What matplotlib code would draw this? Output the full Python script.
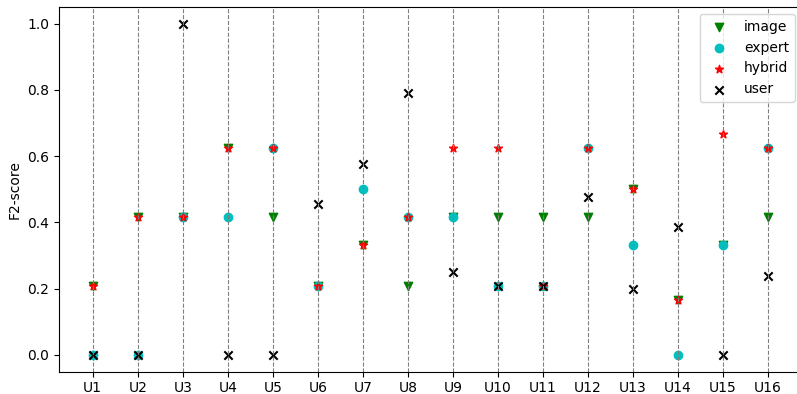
import matplotlib.pyplot as plt

users = ["U%d" % i for i in range(1, 17)]

image = [0.208, 0.417, 0.417, 0.625, 0.417, 0.208, 0.333, 0.208,
         0.417, 0.417, 0.417, 0.417, 0.5, 0.167, 0.333, 0.417]
expert = [0.0, 0.0, 0.417, 0.417, 0.625, 0.208, 0.5, 0.417,
          0.417, 0.208, 0.208, 0.625, 0.333, 0.0, 0.333, 0.625]
hybrid = [0.208, 0.417, 0.417, 0.625, 0.625, 0.208, 0.333, 0.417,
          0.625, 0.625, 0.208, 0.625, 0.5, 0.167, 0.667, 0.625]
user = [0.0, 0.0, 1.0, 0.0, 0.0, 0.455, 0.576, 0.79,
        0.25, 0.208, 0.208, 0.476, 0.2, 0.385, 0.0, 0.238]

fig = plt.figure(figsize=(7.97, 3.94), dpi=100)
ax = fig.add_axes([0.074, 0.057, 0.932, 0.925])

x = list(range(len(users)))
ax.scatter(x, image, marker="v", color="g", label="image")
ax.scatter(x, expert, marker="o", color="c", label="expert")
ax.scatter(x, hybrid, marker="*", color="r", label="hybrid")
ax.scatter(x, user, marker="x", color="k", linewidths=1.5, label="user")

ax.set_xticks(x)
ax.set_xticklabels(users)
ax.set_ylabel("F2-score")
ax.grid(axis="x", linestyle="--", color="gray", linewidth=0.8)
ax.legend(loc="upper right")
# right edge of the original is cropped off
ax.spines["right"].set_visible(False)

plt.savefig("out.png")
plt.close()
